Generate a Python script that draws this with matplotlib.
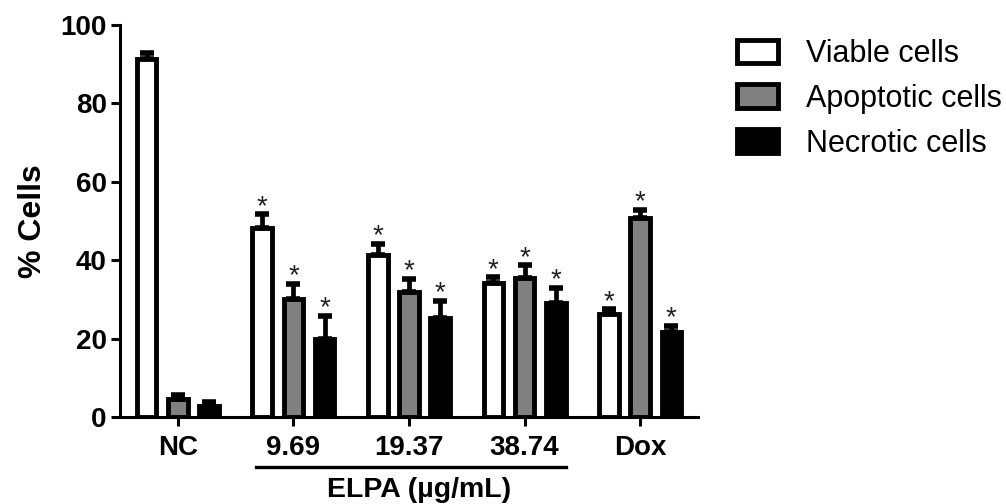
import matplotlib
matplotlib.use('Agg')
import matplotlib.pyplot as plt
import matplotlib.patches as mpatches
import matplotlib.transforms as mtransforms
import numpy as np

plt.rcParams['font.family'] = ['Liberation Sans', 'DejaVu Sans']

# Data
groups = ['NC', '9.69', '19.37', '38.74', 'Dox']
series = ['Viable cells', 'Apoptotic cells', 'Necrotic cells']
viable = [91.3, 48.2, 41.3, 34.3, 26.2]
viable_err = [1.5, 3.5, 2.8, 1.3, 1.3]
apoptotic = [4.5, 30.1, 31.9, 35.4, 50.7]
apoptotic_err = [1.1, 3.8, 3.4, 3.3, 2.2]
necrotic = [2.9, 20.0, 25.2, 29.0, 21.7]
necrotic_err = [1.0, 5.8, 4.4, 4.0, 1.6]
significant = [False, True, True, True, True]

values = [viable, apoptotic, necrotic]
errors = [viable_err, apoptotic_err, necrotic_err]
fills = ['white', '#808080', 'black']

fig = plt.figure(figsize=(10.06, 5.04), dpi=100)
ax = fig.add_axes([0.1193, 0.1726, 0.5745, 0.7778])

x = np.arange(len(groups))
offset = 0.27
width = 0.17
lw = 3.5

for i, (vals, errs, fc) in enumerate(zip(values, errors, fills)):
    pos = x + (i - 1) * offset
    ax.bar(pos, vals, width=width, color=fc, edgecolor='black', linewidth=lw, zorder=3)
    ax.errorbar(pos, vals, yerr=[np.zeros(len(vals)), errs], fmt='none', ecolor='black',
                elinewidth=3.4, capsize=5, capthick=4, zorder=2)
    for p, v, e, s in zip(pos, vals, errs, significant):
        if s:
            ax.annotate('*', (p, v + e), xytext=(0, -4), textcoords='offset points',
                        ha='center', va='bottom', fontsize=20, color='#202020')

ax.set_xlim(-0.5, 4.5)
ax.set_ylim(0, 100)
ax.set_yticks([0, 20, 40, 60, 80, 100])
ax.set_xticks(x)
ax.set_xticklabels(groups)
for lab in ax.get_xticklabels() + ax.get_yticklabels():
    lab.set_fontweight('bold')
    lab.set_fontsize(20)
ax.tick_params(direction='out', length=6.5, width=2.2)
ax.tick_params(axis='x', pad=6.5)
ax.tick_params(axis='y', pad=3)
for side in ['top', 'right']:
    ax.spines[side].set_visible(False)
for side in ['left', 'bottom']:
    ax.spines[side].set_linewidth(2.2)

ax.set_ylabel('% Cells', fontsize=23, fontweight='bold')
ax.yaxis.set_label_coords(-0.124, 0.5)

# ELPA bracket under the three concentrations
trans = mtransforms.blended_transform_factory(ax.transData, ax.transAxes)
ax.plot([0.68, 3.36], [-0.1276, -0.1276], color='black', linewidth=2.4,
        transform=trans, clip_on=False)
ax.text(2.087, -0.204, 'ELPA (µg/mL)', transform=trans, ha='center', va='baseline',
        fontsize=20.5, fontweight='bold')

handles = [mpatches.Patch(facecolor=fc, edgecolor='black', linewidth=lw) for fc in fills]
fig.legend(handles, series, loc='upper left', bbox_to_anchor=(0.733, 0.923),
           frameon=False, fontsize=22, handlelength=1.34, handleheight=0.8,
           handletextpad=0.9, labelspacing=0.49, borderaxespad=0, borderpad=0)

fig.savefig('out.png', dpi=100)
